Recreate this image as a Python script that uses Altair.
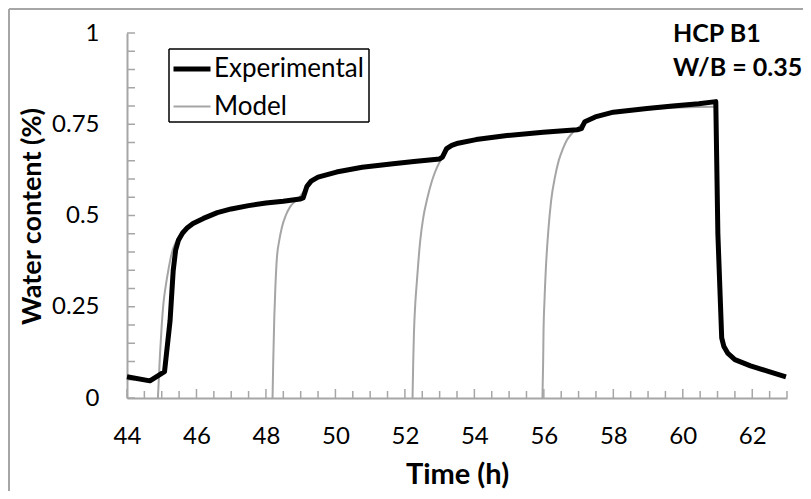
import altair as alt
import pandas as pd

# ---------------- data ----------------
exp_t = [44.00, 44.66, 45.08, 45.24, 45.33, 45.40, 45.48, 45.60, 45.72, 45.90, 46.20, 46.60,
         47.00, 47.50, 48.00, 48.50, 48.98, 49.07, 49.18, 49.30, 49.50, 50.03, 50.77, 51.66,
         52.26, 53.00, 53.08, 53.20, 53.35, 53.53, 54.05, 54.94, 55.98, 56.96, 57.08, 57.18,
         57.48, 58.00, 58.97, 59.71, 60.46, 60.95, 61.01, 61.12, 61.18, 61.30, 61.50, 61.95,
         62.39, 62.97]
exp_w = [0.058, 0.047, 0.072, 0.212, 0.349, 0.405, 0.432, 0.452, 0.465, 0.478, 0.492, 0.508,
         0.518, 0.527, 0.534, 0.539, 0.545, 0.548, 0.580, 0.594, 0.605, 0.619, 0.632, 0.642,
         0.648, 0.655, 0.660, 0.683, 0.692, 0.698, 0.708, 0.719, 0.728, 0.735, 0.738, 0.757,
         0.770, 0.783, 0.793, 0.800, 0.806, 0.812, 0.450, 0.165, 0.142, 0.122, 0.105, 0.088,
         0.075, 0.058]

m1_t = [44.89, 44.92, 44.95, 45.00, 45.05, 45.12, 45.19, 45.26, 45.33, 45.45, 45.60, 45.80,
        46.10, 46.50, 47.00, 47.50, 48.00, 48.50, 49.00]
m1_w = [0.000, 0.060, 0.120, 0.200, 0.260, 0.310, 0.350, 0.385, 0.410, 0.435, 0.455, 0.470,
        0.487, 0.503, 0.516, 0.526, 0.533, 0.539, 0.544]

m2_t = [48.19, 48.21, 48.24, 48.27, 48.31, 48.38, 48.46, 48.57, 48.69, 48.85, 48.99, 49.15,
        49.30, 49.50, 50.00, 50.80, 51.70, 52.30, 53.00]
m2_w = [0.000, 0.100, 0.220, 0.300, 0.377, 0.430, 0.468, 0.500, 0.523, 0.540, 0.553, 0.575,
        0.592, 0.604, 0.618, 0.631, 0.641, 0.647, 0.653]

m3_t = [52.22, 52.24, 52.26, 52.30, 52.34, 52.44, 52.53, 52.63, 52.78, 52.93, 53.05, 53.20,
        53.35, 53.53, 54.05, 54.94, 55.98, 56.60, 57.15]
m3_w = [0.000, 0.100, 0.176, 0.260, 0.313, 0.430, 0.495, 0.541, 0.595, 0.633, 0.655, 0.676,
        0.690, 0.698, 0.708, 0.719, 0.728, 0.732, 0.736]

m4_t = [55.96, 55.98, 55.99, 56.02, 56.06, 56.13, 56.21, 56.32, 56.43, 56.55, 56.66, 56.80,
        56.96, 57.15, 57.33, 57.60, 58.00, 58.50, 58.97, 59.71, 60.40, 60.95]
m4_w = [0.000, 0.100, 0.176, 0.270, 0.358, 0.460, 0.541, 0.605, 0.651, 0.683, 0.706, 0.724,
        0.738, 0.755, 0.765, 0.775, 0.783, 0.789, 0.792, 0.795, 0.797, 0.798]

series_names = ["Experimental", "Model"]
x_label_values = [44, 46, 48, 50, 52, 54, 56, 58, 60, 62]
y_label_values = [0, 0.25, 0.5, 0.75, 1]
annotation_lines = ["HCP B1", "W/B = 0.35"]

# ---------------- tables ----------------
exp_df = pd.DataFrame({"t": exp_t, "w": exp_w, "series": "Experimental", "seg": 0})
model_parts = []
for i, (tt, ww) in enumerate([(m1_t, m1_w), (m2_t, m2_w), (m3_t, m3_w), (m4_t, m4_w)]):
    model_parts.append(pd.DataFrame({"t": tt, "w": ww, "series": "Model", "seg": i + 1}))
model_df = pd.concat(model_parts, ignore_index=True)

x_all = [44 + 0.5 * i for i in range(39)]
x_major_df = pd.DataFrame({"t": [v for v in x_all if v % 2 == 0]})
x_minor_df = pd.DataFrame({"t": [v for v in x_all if v % 2 != 0]})
y_ticks_df = pd.DataFrame({"w": [round(0.05 * i, 2) for i in range(21)]})
ann_df = pd.DataFrame({"t": [59.72, 59.72], "w": [0.975, 0.881], "label": annotation_lines})

W, H = 660, 365
FONT = "Lato"
AXIS_GRAY = "#a6a6a6"

x_scale = alt.Scale(domain=[44, 63], nice=False, zero=False)
y_scale = alt.Scale(domain=[0, 1], nice=False)

x_axis = alt.Axis(values=x_label_values, format="d", title="Time (h)", ticks=False,
                  labelPadding=26, labelFlush=False, labelOverlap=False,
                  titleY=85, titleBaseline="alphabetic", titleFontSize=29, grid=False)
y_axis = alt.Axis(values=y_label_values, format=".2~f", title="Water content (%)", ticks=False,
                  labelPadding=28, labelFlush=False, labelOverlap=False,
                  titleX=-87, titleY=183, titleBaseline="alphabetic", titleFontSize=27,
                  titleAlign="center", grid=False)


def X(field="t:Q"):
    return alt.X(field, scale=x_scale, axis=x_axis)


def Y(field="w:Q"):
    return alt.Y(field, scale=y_scale, axis=y_axis)


legend = alt.Legend(title=None, orient="none", legendX=40, legendY=11,
                    padding=4, symbolType="stroke", symbolSize=1369, rowPadding=5,
                    labelFont=FONT, labelFontSize=26, labelColor="black", labelOffset=1,
                    labelLimit=400)
color_enc = alt.Color("series:N", scale=alt.Scale(domain=series_names, range=["black", "#a5a5a5"]),
                      legend=legend)
width_enc = alt.StrokeWidth("series:N", scale=alt.Scale(domain=series_names, range=[5, 2]),
                            legend=legend)

model_layer = alt.Chart(model_df).mark_line(interpolate="monotone", strokeCap="butt").encode(
    x=X(), y=Y(), color=color_enc, strokeWidth=width_enc, detail="seg:N", order="t:Q"
)
exp_layer = alt.Chart(exp_df).mark_line(interpolate="linear", strokeJoin="round").encode(
    x=X(), y=Y(), color=color_enc, strokeWidth=width_enc, order="t:Q"
)

x_major_layer = alt.Chart(x_major_df).mark_rule(color=AXIS_GRAY, strokeWidth=1.5).encode(
    x=X(), y=alt.value(H), y2=alt.value(H - 9)
)
x_minor_layer = alt.Chart(x_minor_df).mark_rule(color=AXIS_GRAY, strokeWidth=1.5).encode(
    x=X(), y=alt.value(H), y2=alt.value(H - 7)
)
y_tick_layer = alt.Chart(y_ticks_df).mark_rule(color=AXIS_GRAY, strokeWidth=1.5).encode(
    y=Y(), x=alt.value(0), x2=alt.value(8)
)

ann_layer = alt.Chart(ann_df).mark_text(align="left", baseline="alphabetic", font=FONT,
                                        fontSize=25, fontWeight="bold", color="black").encode(
    x=X(), y=Y(), text="label:N"
)

one = pd.DataFrame({"k": [0]})


def hrule(x1, x2, y, color, sw):
    return alt.Chart(one).mark_rule(color=color, strokeWidth=sw).encode(
        x=alt.value(x1), x2=alt.value(x2), y=alt.value(y))


def vrule(x, y1, y2, color, sw):
    return alt.Chart(one).mark_rule(color=color, strokeWidth=sw).encode(
        x=alt.value(x), y=alt.value(y1), y2=alt.value(y2))


# legend frame (black box around the legend, as in the reference)
BX1, BX2, BY1, BY2 = 42, 242, 16, 89
legend_frame = [
    hrule(BX1, BX2, BY1, "black", 1.5), hrule(BX1, BX2, BY2, "black", 1.5),
    vrule(BX1, BY1, BY2, "black", 1.5), vrule(BX2, BY1, BY2, "black", 1.5),
]

# outer frame lines (left and top edges visible in the reference)
outer_frame = [vrule(-118, -24, H + 93, AXIS_GRAY, 2), hrule(-118, W + 16, -24, AXIS_GRAY, 2)]

chart = alt.layer(
    *outer_frame, x_major_layer, x_minor_layer, y_tick_layer,
    model_layer, exp_layer, ann_layer, *legend_frame
).properties(
    width=W, height=H,
    autosize=alt.AutoSizeParams(type="none"),
    padding={"left": 119, "top": 25, "right": 16, "bottom": 93},
    background="white",
).configure_view(
    stroke=None
).configure_axis(
    domainColor=AXIS_GRAY, domainWidth=2,
    labelFont=FONT, labelFontSize=24, labelColor="black",
    titleFont=FONT, titleFontWeight="bold", titleColor="black",
).configure_legend(
    padding=4
)

chart.save("out.html", embed_options={"renderer": "svg", "actions": False})
